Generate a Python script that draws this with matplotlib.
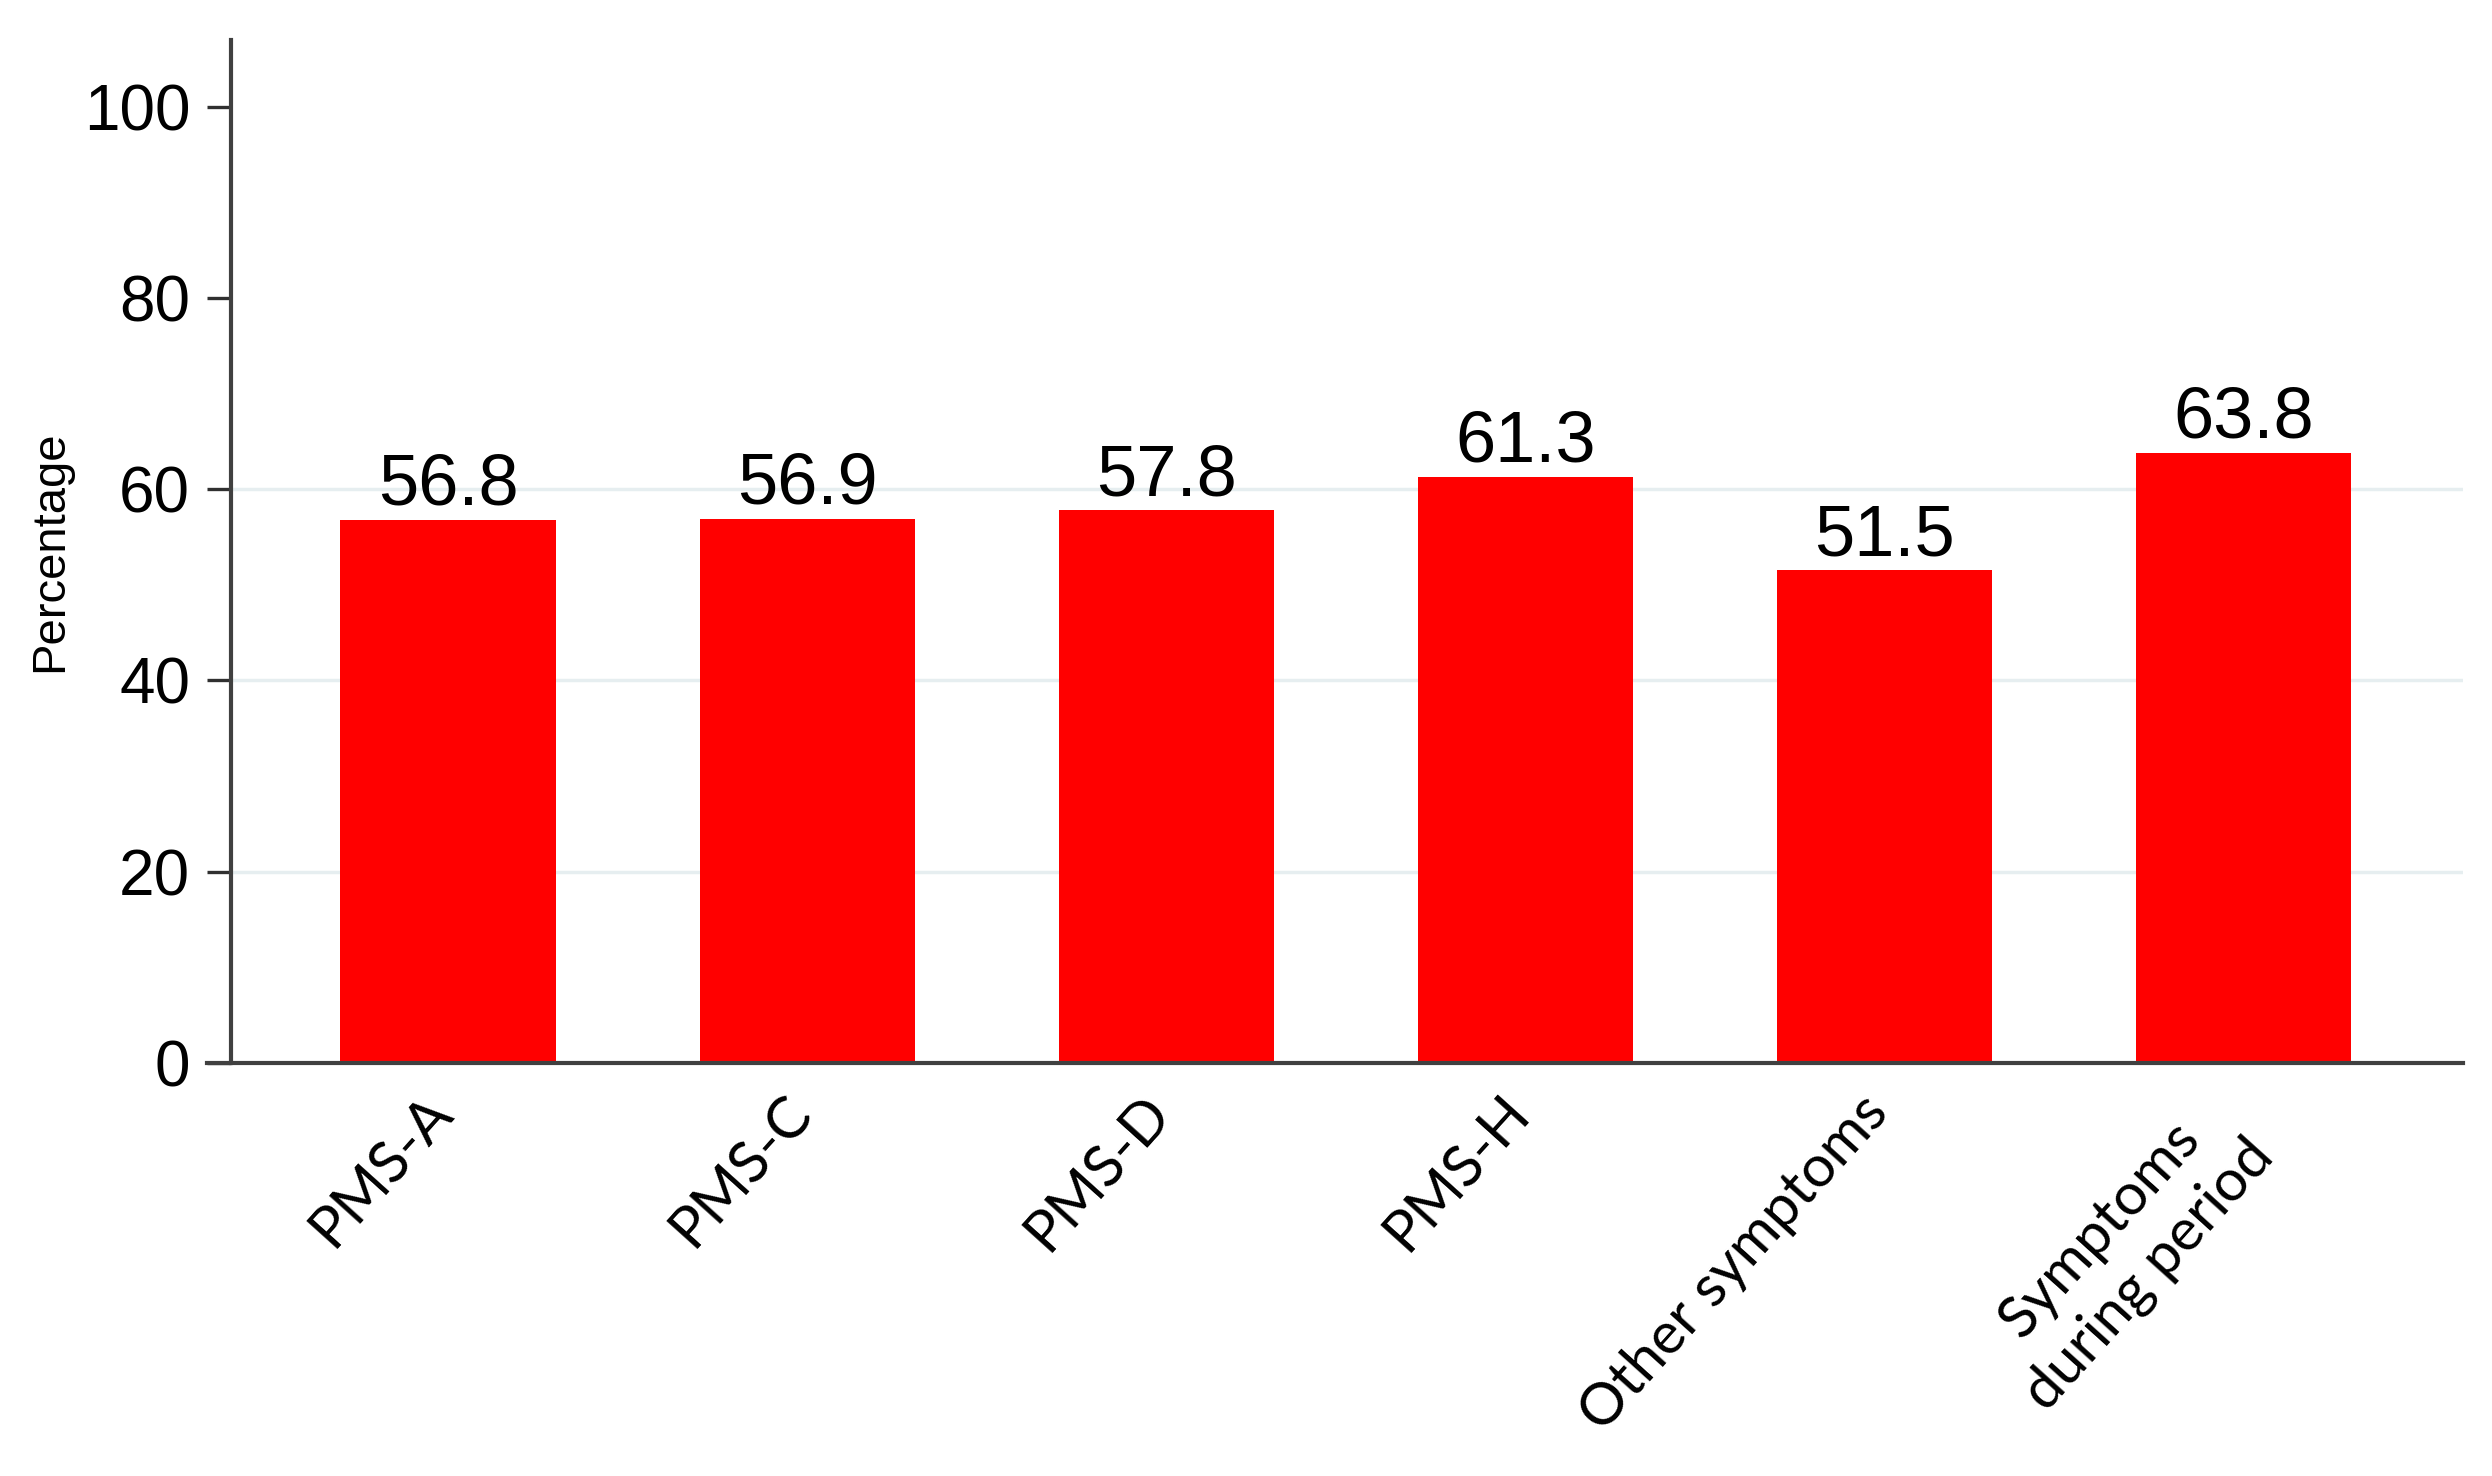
import matplotlib.pyplot as plt
import matplotlib.transforms as mtransforms
import numpy as np

# donnees
categories = ["PMS-A", "PMS-C", "PMS-D", "PMS-H", "Other symptoms", "Symptoms\nduring period"]
pourcentages = [56.8, 56.9, 57.8, 61.3, 51.5, 63.8]
yticks = [0, 20, 40, 60, 80, 100]
grille = [20, 40, 60]

x = np.arange(len(categories))

fig = plt.figure(figsize=(24.92, 14.76), dpi=100)
ax = fig.add_axes([0.0829, 0.2798, 0.9884 - 0.0829, 0.9731 - 0.2798])

for g in grille:
    ax.axhline(g, xmin=0.0106, color="#e6eef0", linewidth=2.5, zorder=0)

rects = ax.bar(x, pourcentages, 0.6, color="#ff0000", zorder=2)
ax.bar_label(rects, labels=[f"{v:.1f}" for v in pourcentages], padding=0,
             fontsize=52, family="Liberation Sans", color="black")

ax.set_xlim(-0.6726, 5.611)
ax.set_ylim(0, 107)

ax.spines["top"].set_visible(False)
ax.spines["right"].set_visible(False)
ax.spines["left"].set_position(("data", -0.606))
for s in ["left", "bottom"]:
    ax.spines[s].set_color("#404040")
    ax.spines[s].set_linewidth(3)

ax.set_yticks(yticks)
ax.set_yticklabels([str(t) for t in yticks], fontsize=46, family="Liberation Sans")
ax.tick_params(axis="y", length=17, width=2.4, color="#303030", pad=12)

ax.set_xticks(x)
ax.set_xticklabels(categories, rotation=48, ha="right", multialignment="center",
                   fontsize=42, family="Lato", linespacing=1.3)
ax.tick_params(axis="x", length=0, pad=16)
for i, lab in enumerate(ax.get_xticklabels()):
    # le libelle sur deux lignes est un peu plus a droite dans l'original
    dx = 0.4 if "\n" in lab.get_text() else 0.14
    decal = mtransforms.ScaledTranslation(dx, 0, fig.dpi_scale_trans)
    lab.set_transform(lab.get_transform() + decal)

ax.set_ylabel("Percentage", fontsize=34, family="Liberation Sans")
ax.yaxis.set_label_coords(0.0, 0.5, transform=mtransforms.blended_transform_factory(
    mtransforms.IdentityTransform(), ax.transAxes))
ax.yaxis.label.set_position((72, 0.5))

fig.savefig("out.png", dpi=100)
